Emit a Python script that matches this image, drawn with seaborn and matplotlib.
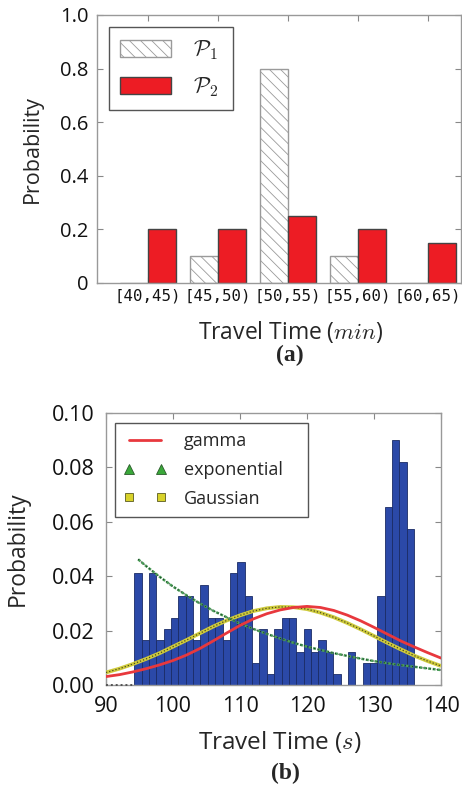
import numpy as np
import pandas as pd
import matplotlib
matplotlib.use("Agg")
import matplotlib.pyplot as plt
import seaborn as sns
from matplotlib.patches import Patch
from matplotlib.lines import Line2D

# ---------------- data: panel (a) ----------------
bins_a = ['[40,45)', '[45,50)', '[50,55)', '[55,60)', '[60,65)']
p1_vals = [0.0, 0.1, 0.8, 0.1, 0.0]
p2_vals = [0.2, 0.2, 0.25, 0.2, 0.15]
series_a = ['$\\mathcal{P}_1$', '$\\mathcal{P}_2$']
yticks_a = [0, 0.2, 0.4, 0.6, 0.8, 1.0]
ytick_labels_a = ['0', '0.2', '0.4', '0.6', '0.8', '1.0']

# ---------------- data: panel (b) ----------------
hist_range = (94.2, 136.0)
hist_prob = [0.0410, 0.0164, 0.0410, 0.0164, 0.0205, 0.0246, 0.0328, 0.0328, 0.0164, 0.0369,
             0.0246, 0.0246, 0.0164, 0.0410, 0.0451, 0.0328, 0.0082, 0.0205, 0.0041, 0.0205,
             0.0246, 0.0246, 0.0123, 0.0205, 0.0123, 0.0164, 0.0123, 0.0041, 0.0000, 0.0123,
             0.0000, 0.0082, 0.0082, 0.0328, 0.0656, 0.0902, 0.0820, 0.0574]

curve_x = [90, 92, 94, 96, 98, 100, 102, 104, 106, 108, 110, 112, 114, 116, 118, 120,
           122, 124, 126, 128, 130, 132, 134, 136, 138, 140]
gamma_y = [0.0031, 0.0038, 0.0048, 0.0060, 0.0074, 0.0090, 0.0110, 0.0134, 0.0162, 0.0191,
           0.0219, 0.0243, 0.0262, 0.0276, 0.0285, 0.0289, 0.0285, 0.0274, 0.0257, 0.0236,
           0.0212, 0.0187, 0.0162, 0.0140, 0.0119, 0.0099]
gauss_y = [0.0046, 0.0060, 0.0077, 0.0096, 0.0117, 0.0141, 0.0165, 0.0190, 0.0215, 0.0237,
           0.0256, 0.0272, 0.0282, 0.0287, 0.0286, 0.0279, 0.0266, 0.0249, 0.0228, 0.0205,
           0.0180, 0.0155, 0.0131, 0.0108, 0.0088, 0.0070]
expo_zero_x = [90, 94.4]
expo_zero_y = [0.0, 0.0]
expo_x = [94.8, 96, 98, 100, 102, 104, 106, 108, 110, 112, 114, 116, 118, 120,
          122, 124, 126, 128, 130, 132, 134, 136, 138, 140]
expo_y = [0.0462, 0.0437, 0.0398, 0.0362, 0.0330, 0.0300, 0.0273, 0.0249, 0.0226, 0.0206,
          0.0188, 0.0171, 0.0155, 0.0141, 0.0129, 0.0117, 0.0107, 0.0097, 0.0088, 0.0080,
          0.0073, 0.0067, 0.0061, 0.0055]
xticks_b = [90, 100, 110, 120, 130, 140]
yticks_b = [0.00, 0.02, 0.04, 0.06, 0.08, 0.10]
legend_b = ['gamma', 'exponential', 'Gaussian']

# ---------------- style ----------------
sns.set_theme(style="ticks")
plt.rcParams['font.family'] = ['Open Sans', 'DejaVu Sans']
plt.rcParams['mathtext.fontset'] = 'cm'
plt.rcParams['hatch.linewidth'] = 0.6

RED = '#ed1c24'
BLUE = '#2b49a8'
SPINE = '#999999'
HATCH_EDGE = '#9a9a9a'

fig = plt.figure(figsize=(4.62, 7.85), dpi=100)
ax1 = fig.add_axes([97/462, 1-283/785, (461-97)/462, (283-15)/785])
ax2 = fig.add_axes([106/462, 1-685/785, (441-106)/462, (685-413)/785])

# ---------------- panel (a) ----------------
df_a = pd.DataFrame({
    'bin': bins_a * 2,
    'prob': p1_vals + p2_vals,
    'series': [series_a[0]] * len(bins_a) + [series_a[1]] * len(bins_a),
})
sns.barplot(data=df_a, x='bin', y='prob', hue='series', order=bins_a, hue_order=series_a,
            palette=['white', RED], saturation=1, width=0.8, dodge=True,
            linewidth=1.0, edgecolor='#555555', legend=False, ax=ax1)
for bar in ax1.containers[0]:
    bar.set_hatch('\\\\\\')
    bar.set_edgecolor(HATCH_EDGE)
for bar in ax1.containers[1]:
    bar.set_edgecolor('#444444')

ax1.set_xlim(-0.73, 4.47)
ax1.set_ylim(0, 1.0)
ax1.set_yticks(yticks_a)
ax1.set_yticklabels(ytick_labels_a)
ax1.set_ylabel('Probability', fontsize=15.5)
ax1.yaxis.set_label_coords(-0.149, 0.5)
ax1.set_xlabel('Travel Time ($min$)', fontsize=16.5)
ax1.xaxis.set_label_coords(0.533, -0.133)

handles_a = [Patch(facecolor='white', edgecolor=HATCH_EDGE, hatch='\\\\\\', linewidth=1.0),
             Patch(facecolor=RED, edgecolor='#444444', linewidth=1.0)]
ax1.legend(handles_a, series_a, loc='upper left', bbox_to_anchor=(0.033, 0.5, 0.341, 0.455),
           mode='expand', borderaxespad=0, fontsize=16, frameon=True, fancybox=False,
           edgecolor='#555555', framealpha=1, handlelength=2.3, handleheight=0.8,
           handletextpad=1.0, labelspacing=0.6, borderpad=0.5)

# ---------------- panel (b) ----------------
edges = np.linspace(hist_range[0], hist_range[1], len(hist_prob) + 1)
centers = (edges[:-1] + edges[1:]) / 2
sns.histplot(x=centers, weights=hist_prob, bins=len(hist_prob), binrange=hist_range,
             color=BLUE, alpha=1, edgecolor='#1b2c66', linewidth=0.6, ax=ax2)

# gamma
ax2.plot(curve_x, gamma_y, color='#e8383d', lw=2.0, zorder=5)
# Gaussian (dense square markers look)
ax2.plot(curve_x, gauss_y, color='#cfcb3c', lw=2.7, zorder=4, solid_capstyle='butt')
ax2.plot(curve_x, gauss_y, color='#4a4a1e', lw=0.9, ls=(0, (1, 1.6)), zorder=4.1)
# exponential (dense triangle markers look)
ax2.plot(expo_x, expo_y, color='#4a9e58', lw=1.8, ls=(0, (1.2, 0.6)), zorder=4.2)
ax2.plot(expo_x, expo_y, color='#1d3d25', lw=0.8, ls=(0, (1, 2.2)), zorder=4.3)
ax2.plot(expo_zero_x, expo_zero_y, color='#555555', lw=1.4, ls=(0, (1, 1.5)), zorder=4.3,
         clip_on=False)

ax2.set_xlim(90, 140)
ax2.set_ylim(0, 0.10)
ax2.set_xticks(xticks_b)
ax2.set_xticklabels([str(v) for v in xticks_b])
ax2.set_yticks(yticks_b)
ax2.set_yticklabels(['%.2f' % v for v in yticks_b])
ax2.set_ylabel('Probability', fontsize=16.5)
ax2.yaxis.set_label_coords(-0.227, 0.5)
ax2.set_xlabel('Travel Time ($s$)', fontsize=17.5)
ax2.xaxis.set_label_coords(0.518, -0.160)

handles_b = [Line2D([], [], color='#e8383d', lw=2.0),
             Line2D([], [], ls='none', marker='^', markersize=6.5, markerfacecolor='#3aa83a',
                    markeredgecolor='#2a5a2a', markeredgewidth=0.6),
             Line2D([], [], ls='none', marker='s', markersize=6, markerfacecolor='#d8d22a',
                    markeredgecolor='#5a5a20', markeredgewidth=0.6)]
ax2.legend(handles_b, legend_b, loc='upper left', bbox_to_anchor=(0.0269, 0.5, 0.576, 0.463),
           mode='expand', borderaxespad=0, fontsize=13, frameon=True, fancybox=False,
           edgecolor='#555555', framealpha=1, numpoints=2, handlelength=2.35,
           handletextpad=0.95, labelspacing=0.6, borderpad=0.5)

for ax in (ax1, ax2):
    for sp in ax.spines.values():
        sp.set_visible(True)
        sp.set_color(SPINE)
        sp.set_linewidth(1.0)
    ax.tick_params(direction='in', top=True, right=True, length=4, width=0.8,
                   color='#888888', labelcolor='#111111')

ax1.tick_params(axis='y', labelsize=14.5, pad=6)
ax1.tick_params(axis='x', pad=4)
ax1.set_xticks(range(len(bins_a)))
ax1.set_xticklabels(bins_a, fontsize=11.3, fontfamily=['DejaVu Sans Mono'])
ax2.tick_params(axis='both', labelsize=15.5, pad=8)

fig.text(290/462, 1-355/785, '(a)', ha='center', va='center', fontsize=17,
         fontweight='bold', family=['Liberation Serif'])
fig.text(285/462, 1-773/785, '(b)', ha='center', va='center', fontsize=17,
         fontweight='bold', family=['Liberation Serif'])

fig.savefig('out.png', dpi=100)
